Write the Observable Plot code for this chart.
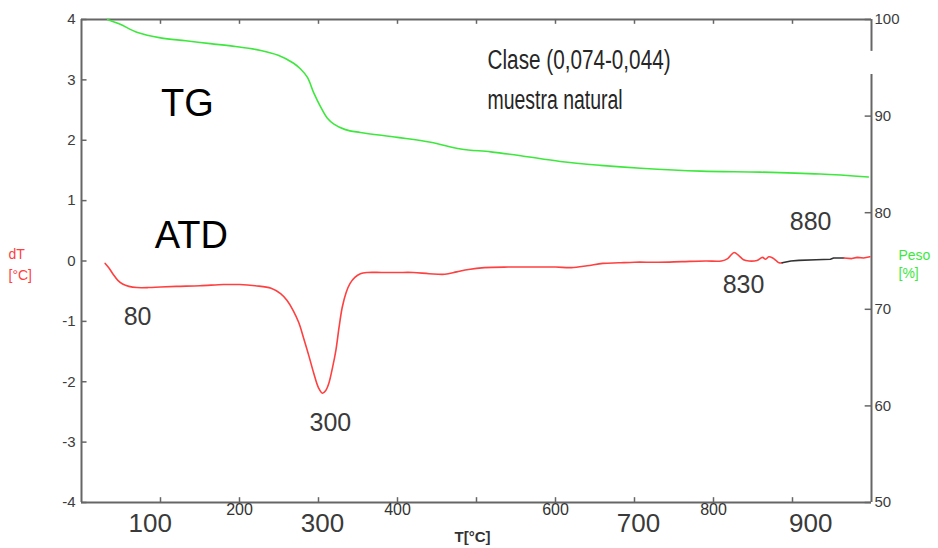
<!DOCTYPE html>
<html><head><meta charset="utf-8">
<script src="https://cdn.jsdelivr.net/npm/d3@7"></script>
<script src="https://cdn.jsdelivr.net/npm/@observablehq/plot@0.6"></script>
<style>body{margin:0;background:#fff}#chart svg{display:block}</style>
</head><body><div id="chart"></div>
<script>
// TG curve (weight %, right axis)
const tgT   = [33, 49, 71, 100, 132, 163, 195, 227, 249, 268, 277, 286, 294, 303, 311, 319, 334, 353, 400, 442, 480, 518, 556, 606, 657, 708, 784, 859, 935, 996];
const tgPct = [100.0, 99.5, 98.65, 98.1, 97.8, 97.5, 97.2, 96.8, 96.3, 95.5, 94.9, 94.0, 92.4, 90.9, 89.8, 89.2, 88.6, 88.3, 87.8, 87.3, 86.6, 86.3, 85.9, 85.3, 84.9, 84.6, 84.3, 84.2, 84.0, 83.7];

// ATD curve (dT, left axis) - red part
const atdT = [30, 35, 40, 46, 52, 60, 70, 85, 100, 120, 150, 180, 200, 220, 240, 252, 260, 268, 275, 281, 288, 294, 300, 305, 309, 313, 318, 322, 326, 330, 335, 340, 346, 353, 362, 380, 400, 420, 440, 460, 475, 490, 510, 540, 570, 600, 620, 640, 660, 680, 700, 730, 760, 790, 810, 818, 826, 832, 838, 845, 855, 862, 866, 870, 875, 879, 883, 887];
const atdV = [-0.04, -0.12, -0.22, -0.32, -0.38, -0.42, -0.44, -0.44, -0.43, -0.42, -0.41, -0.39, -0.39, -0.41, -0.45, -0.54, -0.65, -0.82, -1.02, -1.27, -1.58, -1.86, -2.10, -2.19, -2.15, -2.03, -1.75, -1.48, -1.10, -0.77, -0.52, -0.37, -0.27, -0.21, -0.19, -0.19, -0.19, -0.19, -0.21, -0.22, -0.18, -0.14, -0.11, -0.10, -0.10, -0.10, -0.11, -0.08, -0.04, -0.03, -0.02, -0.02, -0.01, 0.00, 0.00, 0.04, 0.14, 0.09, 0.02, 0.00, 0.01, 0.06, 0.03, 0.07, 0.05, 0.01, -0.03, -0.03];
// ATD black segment
const atdBlackT = [887, 898, 908, 930, 948, 952, 965];
const atdBlackV = [-0.03, 0.00, 0.01, 0.02, 0.03, 0.05, 0.05];
// ATD final red segment
const atdEndT = [965, 975, 982, 990, 998];
const atdEndV = [0.05, 0.04, 0.06, 0.05, 0.07];

// axes
const leftTicks = [-4, -3, -2, -1, 0, 1, 2, 3, 4];
const rightTicks = [50, 60, 70, 80, 90, 100];
const xTicks = [100, 200, 300, 400, 500, 600, 700, 800, 900];
const xSmallLabels = [200, 400, 600, 800];
const xBigLabels = ["100", "300", "700", "900"];
const xBigLabelT = [87, 305, 705, 923];
const rightAxisSegments = [[100, 96.7], [94.3, 50]];

// annotations
const peakLabels = ["80", "300", "830", "880"];
const peakT = [71, 315, 838, 923];
const peakV = [-0.92, -2.69, -0.39, 0.64];
const seriesLabels = ["TG", "ATD"];
const seriesLabelT = [134, 139];
const seriesLabelV = [2.61, 0.41];
const notes = ["Clase (0,074-0,044)", "muestra natural"];
const noteT = [514, 514];
const noteV = [3.32, 2.66];
const noteWidths = [183, 135];

const pctToDT = p => (p - 75) / 6.25;
const dtToPct = d => Math.round(d * 6.25 + 75);

const tg = tgT.map((t, i) => ({t, v: pctToDT(tgPct[i])}));
const atd = atdT.map((t, i) => ({t, v: atdV[i]}));
const atdBlack = atdBlackT.map((t, i) => ({t, v: atdBlackV[i]}));
const atdEnd = atdEndT.map((t, i) => ({t, v: atdEndV[i]}));

const axisColor = "#666";
const labelColor = "#3c3c3c";
const narrow = "'Liberation Sans Narrow', 'Liberation Sans', Arial, sans-serif";
const sans = "'Liberation Sans', Arial, sans-serif";
const green = "#3de83d";
const red = "#ff4040";

const chart = Plot.plot({
  width: 938, height: 548,
  marginTop: 19, marginBottom: 46, marginLeft: 81, marginRight: 67,
  x: {domain: [0, 1000]},
  y: {domain: [-4, 4]},
  style: {background: "#fff", overflow: "visible"},
  marks: [
    // frame
    Plot.ruleY([4, -4], {stroke: axisColor, strokeWidth: 2}),
    Plot.ruleX([0], {stroke: axisColor, strokeWidth: 2}),
    Plot.ruleX(rightAxisSegments, {x: 1000, y1: d => pctToDT(d[0]), y2: d => pctToDT(d[1]), stroke: axisColor, strokeWidth: 2}),
    // inward ticks
    Plot.ruleY(leftTicks, {y: d => d, x1: 0, x2: 7, stroke: axisColor, strokeWidth: 1.5}),
    Plot.ruleY(rightTicks, {y: d => pctToDT(d), x1: 992, x2: 1000, stroke: axisColor, strokeWidth: 1.5}),
    Plot.ruleX(xTicks, {x: d => d, y1: -4, y2: -3.92, stroke: axisColor, strokeWidth: 1.5}),
    Plot.ruleX(xTicks, {x: d => d, y1: 4, y2: 3.92, stroke: axisColor, strokeWidth: 1.5}),
    // axis labels
    Plot.axisY({anchor: "left", ticks: leftTicks, tickSize: 0, tickPadding: 6, tickFormat: d => String(d), fontSize: 15, fontFamily: narrow, fill: labelColor, label: null}),
    Plot.axisY({anchor: "right", ticks: rightTicks.map(pctToDT), tickSize: 0, tickPadding: 3, tickFormat: dtToPct, fontSize: 15, fontFamily: narrow, fill: labelColor, label: null}),
    Plot.axisX({ticks: xSmallLabels, tickSize: 0, tickPadding: 1, tickFormat: d => String(d), fontSize: 16, fontFamily: narrow, fill: "#333", label: null}),
    Plot.text(xBigLabels, {x: (d, i) => xBigLabelT[i], frameAnchor: "bottom", dy: 21, text: d => d, fontSize: 26, fontFamily: sans, fill: "#3a3a3a", lineAnchor: "middle"}),
    Plot.text(["T[°C]"], {x: 495, frameAnchor: "bottom", dy: 35, text: d => d, fontSize: 15, fontWeight: "bold", fontFamily: narrow, fill: "#333", lineAnchor: "middle"}),
    Plot.text(["dT\n[°C]"], {frameAnchor: "left", y: 0, dx: -73, dy: 2, text: d => d, textAnchor: "start", lineAnchor: "middle", lineHeight: 1.5, fontSize: 14, fontFamily: sans, fill: red}),
    Plot.text(["Peso\n[%]"], {frameAnchor: "right", y: 0, dx: 27, dy: 2, text: d => d, textAnchor: "start", lineAnchor: "middle", lineHeight: 1.35, fontSize: 14, fontFamily: sans, fill: green}),
    // curves
    Plot.line(tg, {x: "t", y: "v", stroke: green, strokeWidth: 1.6, curve: "catmull-rom"}),
    Plot.line(atd, {x: "t", y: "v", stroke: red, strokeWidth: 1.6, curve: "catmull-rom"}),
    Plot.line(atdBlack, {x: "t", y: "v", stroke: "#333", strokeWidth: 1.6}),
    Plot.line(atdEnd, {x: "t", y: "v", stroke: red, strokeWidth: 1.6}),
    // annotations
    Plot.text(seriesLabels, {x: (d, i) => seriesLabelT[i], y: (d, i) => seriesLabelV[i], text: d => d, fontSize: 38, fontFamily: sans, fill: "#000", lineAnchor: "middle"}),
    Plot.text(peakLabels, {x: (d, i) => peakT[i], y: (d, i) => peakV[i], text: d => d, fontSize: 25, fontFamily: sans, fill: "#3a3a3a", lineAnchor: "middle"}),
    Plot.text(notes, {x: (d, i) => noteT[i], y: (d, i) => noteV[i], text: d => d, textAnchor: "start", lineAnchor: "middle", fontSize: 27, fontFamily: narrow, fill: "#262626"})
  ]
});
// condense the note texts to the narrow look of the original
d3.select(chart).selectAll("text").each(function () {
  const k = notes.indexOf(this.textContent);
  if (k >= 0) {
    this.setAttribute("textLength", noteWidths[k]);
    this.setAttribute("lengthAdjust", "spacingAndGlyphs");
  }
});
document.getElementById("chart").append(chart);
</script>
</body></html>
